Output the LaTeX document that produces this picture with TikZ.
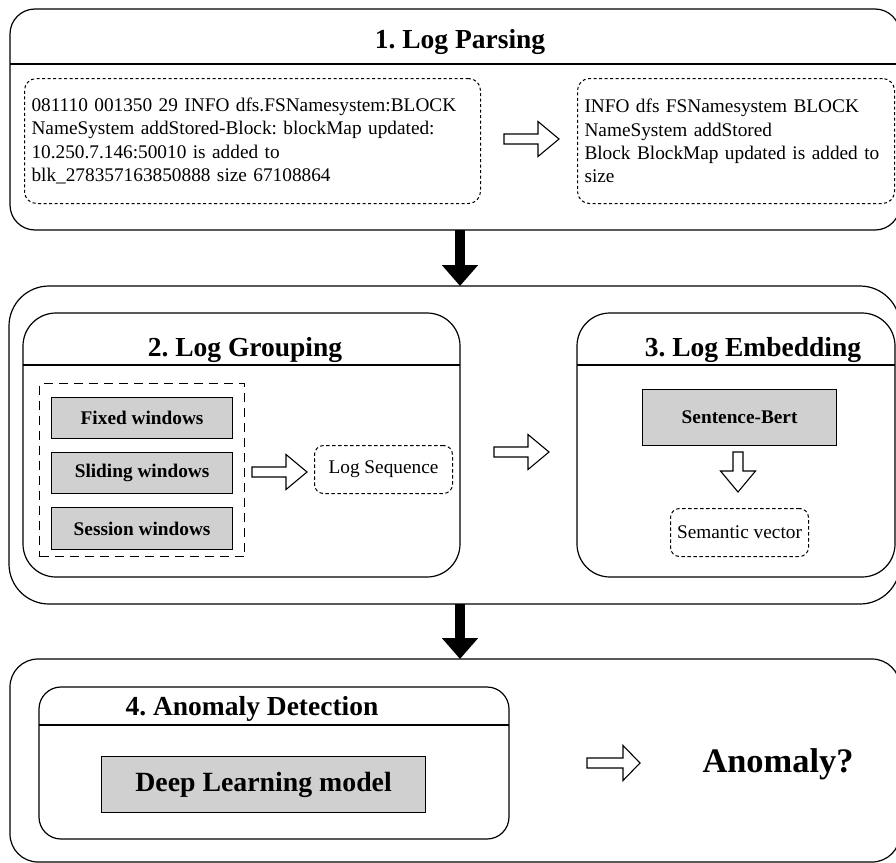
\documentclass[tikz,border=0pt]{standalone}
\usepackage{fontspec}
\setmainfont{Liberation Serif}
\usetikzlibrary{arrows.meta}
\definecolor{boxgray}{RGB}{208,208,208}
\frenchspacing
\newcommand\hollowR[3]{%
  \draw[hollow, shift={(#1,#2)}] (0,-5) -- ({#3-21},-5) -- ({#3-21},-17.5) -- (#3,0)
    -- ({#3-21},17.5) -- ({#3-21},5) -- (0,5) -- cycle;}
\begin{document}
\begin{tikzpicture}[x=1pt,y=-1pt,
  frame/.style={draw, line width=1.2pt, rounded corners=#1, inner sep=0pt, outer sep=0pt, anchor=north west},
  sepline/.style={line width=1.2pt},
  title/.style={font=\bfseries\fontsize{27.5pt}{30pt}\selectfont, inner sep=0pt},
  txt/.style={font=\fontsize{19.3pt}{23.3pt}\selectfont},
  logbox/.style={draw, line width=1pt, dash pattern=on 3pt off 2.5pt, rounded corners=12pt,
     anchor=north west, inner xsep=7pt, inner ysep=0pt, align=left, txt},
  smalldash/.style={draw, line width=1pt, dash pattern=on 3.5pt off 2.5pt, rounded corners=9pt,
     inner sep=0pt, txt},
  graybox/.style={draw, line width=1.2pt, fill=boxgray, inner sep=0pt,
     font=\bfseries\fontsize{19.3pt}{22pt}\selectfont},
  hollow/.style={draw, line width=1.1pt, fill=white, line join=miter},
  bigarrow/.style={line width=10pt, -{Triangle[length=21pt,width=35pt]}}]
\clip (0,0) rectangle (896,862);

% ---------- 1. Log Parsing ----------
\node[frame=25pt, minimum width=890pt, minimum height=221pt] (p1) at (10,9) {};
\coordinate (t1) at (0,64);
\draw[sepline] (p1.west |- t1) -- (p1.east |- t1);
\node[title] (p1t) at (460,42) {1. Log Parsing};
\node[logbox, minimum height=125pt, text width=442pt] (raw) at (24,78)
  {081110 001350 29 INFO dfs.FSNamesystem:BLOCK\\
   NameSystem addStored-Block: blockMap updated:\\
   10.250.7.146:50010 is added to\\
   blk\_278357163850888 size 67108864};
\node[logbox, minimum height=125pt, text width=303pt] (parsed) at (577,78)
  {INFO dfs FSNamesystem BLOCK\\
   NameSystem addStored\\
   Block BlockMap updated is added to\\
   size};
\hollowR{504}{139}{55}

% ---------- middle frame ----------
\node[frame=40pt, minimum width=891pt, minimum height=318pt] (p2) at (9,286) {};
\draw[bigarrow] (p1.south -| 460,0) -- (p2.north -| 460,0);

% 2. Log Grouping
\node[frame=33pt, minimum width=437pt, minimum height=264pt] (g) at (23,313) {};
\coordinate (t2) at (0,365);
\draw[sepline] (g.west |- t2) -- (g.east |- t2);
\node[title] (gt) at (245,350) {2. Log Grouping};
\node[draw, line width=1.2pt, dash pattern=on 9pt off 6pt, anchor=north west, inner sep=0pt,
      minimum width=205pt, minimum height=173pt] (win) at (39,383) {};
\node[graybox, anchor=north west, minimum width=181pt, minimum height=41pt] (fixed) at (51,397) {Fixed windows};
\node[graybox, anchor=north west, minimum width=181pt, minimum height=41pt] (slide) at (51,452) {Sliding windows};
\node[graybox, anchor=north west, minimum width=181pt, minimum height=42pt] (sess) at (51,507) {Session windows};
\hollowR{252}{472}{55}
\node[smalldash, anchor=north west, minimum width=138pt, minimum height=48pt] (seq) at (314,445) {Log Sequence};

\hollowR{494}{452}{55}

% 3. Log Embedding
\node[frame=33pt, minimum width=318pt, minimum height=264pt] (e) at (577,313) {};
\draw[sepline] (e.west |- t2) -- (e.east |- t2);
\node[title] (et) at (753,350) {3. Log Embedding};
\node[graybox, anchor=north west, minimum width=194pt, minimum height=56pt] (sbert) at (642,389) {Sentence-Bert};
\draw[hollow] (733,452) -- (743,452) -- (743,471) -- (755.5,471) -- (738,492)
   -- (720.5,471) -- (733,471) -- cycle;
\node[smalldash, anchor=north west, minimum width=138pt, minimum height=48pt] (sem) at (670,508) {Semantic vector};

% ---------- 4. Anomaly Detection ----------
\node[frame=28pt, minimum width=890pt, minimum height=203pt] (p4) at (10,659) {};
\draw[bigarrow] (p2.south -| 460,0) -- (p4.north -| 460,0);
\node[frame=22pt, minimum width=470pt, minimum height=152pt] (d) at (39,687) {};
\coordinate (t4) at (0,725);
\draw[sepline] (d.west |- t4) -- (d.east |- t4);
\node[title] (dt) at (252,709) {4. Anomaly Detection};
\node[graybox, anchor=north west, minimum width=324pt, minimum height=56pt,
      font=\bfseries\fontsize{27.8pt}{30pt}\selectfont] (dl) at (101,756) {Deep Learning model};
\draw[hollow] (587,758) -- (623,758) -- (623,745.5) -- (640,763) -- (623,780.5)
   -- (623,768) -- (587,768) -- cycle;
\node[font=\bfseries\fontsize{34.4pt}{36pt}\selectfont, inner sep=0pt] (anom) at (778,764) {Anomaly?};
\end{tikzpicture}
\end{document}
